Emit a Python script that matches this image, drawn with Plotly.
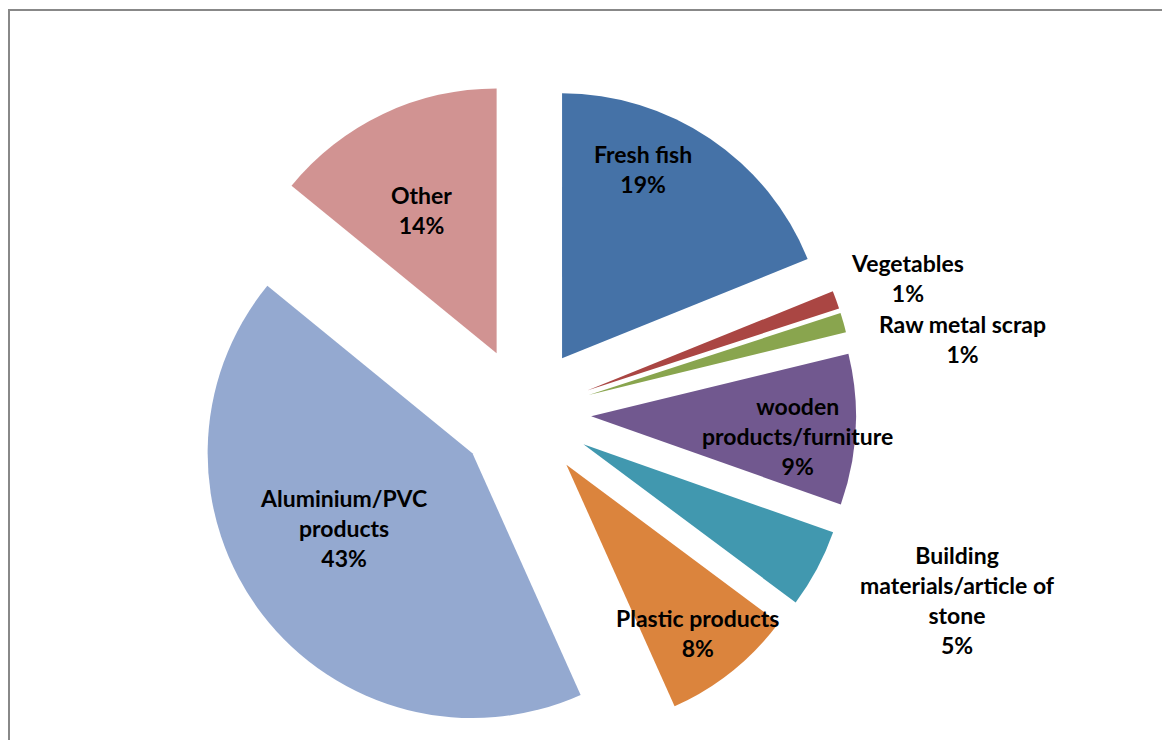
import plotly.graph_objects as go

categories = ["Fresh fish", "Vegetables", "Raw metal scrap", "wooden products/furniture",
              "Building materials/article of stone", "Plastic products",
              "Aluminium/PVC products", "Other"]
label_text = ["Fresh fish", "Vegetables", "Raw metal scrap", "wooden<br>products/furniture",
              "Building<br>materials/article of<br>stone", "Plastic products",
              "Aluminium/PVC<br>products", "Other"]
values = [18.9, 1.1, 1.2, 9.2, 4.8, 8.1, 42.6, 14.1]
colors = ["#4572A7", "#AA4643", "#89A54E", "#71588F", "#4198AF", "#DB843D", "#94A9D0", "#D19392"]

# label anchor positions (pixels in the 1170x740 figure, from top-left)
label_px = [(635, 161), (899, 270), (954, 331), (789, 428),
            (949, 592), (689, 625), (335, 520), (413, 202)]

W, H = 1170, 740

fig = go.Figure(go.Pie(
    labels=categories,
    values=values,
    textinfo="none",
    sort=False,
    direction="clockwise",
    rotation=0,
    pull=[0.25] * len(values),
    marker=dict(colors=colors, line=dict(width=0)),
    showlegend=False,
    automargin=False,
    hoverinfo="label+percent",
    domain=dict(x=[185.75 / W, 848.25 / W], y=[4 / H, 666 / H]),
))

total = sum(values)
annotations = []
for txt, v, (px, py) in zip(label_text, values, label_px):
    annotations.append(dict(
        text=f"{txt}<br>{round(v / total * 100)}%",
        xref="paper", yref="paper",
        x=px / W, y=1 - py / H,
        xanchor="center", yanchor="middle",
        showarrow=False, align="center",
        font=dict(family="Lato", size=23, color="black", weight="bold"),
    ))

fig.update_layout(
    width=W, height=H,
    autosize=False,
    margin=dict(l=0, r=0, t=0, b=0, pad=0, autoexpand=False),
    paper_bgcolor="white",
    plot_bgcolor="white",
    annotations=annotations,
    shapes=[dict(type="rect", xref="paper", yref="paper",
                 x0=1 / W, x1=1.05, y0=-0.05, y1=1 - 2 / H,
                 line=dict(color="#888888", width=2), layer="below")],
)

fig.write_html("out.html")
